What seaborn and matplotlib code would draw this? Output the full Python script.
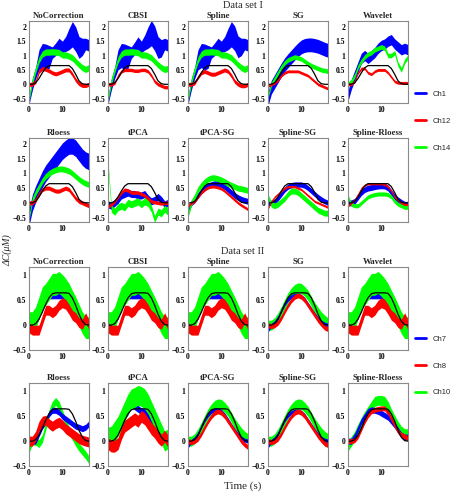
import numpy as np
import pandas as pd
import matplotlib
matplotlib.use("Agg")
import matplotlib.pyplot as plt
from matplotlib.lines import Line2D
import seaborn as sns

# ---------------- data ----------------
T = [0, 1, 2, 3, 4, 5, 6, 7, 8, 9, 10, 11, 12, 13, 14, 15, 16, 17, 18]

REF_I = [0, 0, 0.05, 0.2, 0.4, 0.57, 0.65, 0.65, 0.65, 0.65, 0.65, 0.65, 0.65, 0.55, 0.35, 0.12, 0.02, 0, 0]
REF_II = [0, 0, 0.03, 0.12, 0.26, 0.42, 0.55, 0.63, 0.65, 0.65, 0.65, 0.65, 0.64, 0.55, 0.4, 0.22, 0.08, 0.01, 0]

# Data set I : Ch1 (blue), Ch12 (red), Ch14 (green); band = centre +/- half width
NOCORR_I_CH1 = [-0.57, 0.0, 0.4, 0.85, 1.0, 0.95, 0.95, 1.1, 1.22, 1.35, 1.3, 1.4, 1.57, 1.74, 1.57, 1.28, 1.3, 1.4, 1.35]
NOCORR_I_CH1_HW = [0.13, 0.2, 0.2, 0.35, 0.42, 0.45, 0.4, 0.2, 0.22, 0.25, 0.2, 0.26, 0.37, 0.44, 0.43, 0.38, 0.3, 0.2, 0.2]
NOCORR_I_CH12 = [0, 0, 0.1, 0.45, 0.55, 0.52, 0.47, 0.4, 0.36, 0.4, 0.45, 0.5, 0.5, 0.35, 0.15, 0.02, -0.04, -0.04, 0.0]
NOCORR_I_CH14 = [-0.5, 0.1, 0.5, 0.85, 1.05, 1.12, 1.12, 1.13, 1.12, 1.1, 1.02, 1.02, 0.98, 0.92, 0.8, 0.68, 0.58, 0.52, 0.58]
HW_NOCORR_I = [NOCORR_I_CH1_HW, 0.07, 0.11]

CBSI_I_CH1 = [-0.57, 0.0, 0.4, 0.85, 1.0, 0.95, 0.95, 1.1, 1.25, 1.4, 1.3, 1.45, 1.62, 1.78, 1.6, 1.28, 1.25, 1.4, 1.35]
CBSI_I_CH1_HW = [0.13, 0.2, 0.2, 0.35, 0.42, 0.45, 0.4, 0.2, 0.22, 0.25, 0.2, 0.26, 0.37, 0.44, 0.43, 0.38, 0.3, 0.2, 0.2]
CBSI_I_CH12 = [0, 0, 0.05, 0.3, 0.45, 0.5, 0.5, 0.5, 0.47, 0.47, 0.5, 0.5, 0.45, 0.3, 0.1, 0.0, -0.05, -0.1, -0.1]
CBSI_I_CH14 = [-0.5, 0.1, 0.5, 0.85, 1.05, 1.12, 1.12, 1.13, 1.12, 1.1, 1.02, 1.02, 0.98, 0.92, 0.8, 0.68, 0.58, 0.52, 0.55]
HW_CBSI_I = [CBSI_I_CH1_HW, 0.06, 0.11]

SPLINE_I_CH1 = [-0.57, 0.0, 0.4, 0.85, 1.0, 0.95, 0.95, 1.1, 1.22, 1.35, 1.3, 1.4, 1.57, 1.74, 1.6, 1.3, 1.3, 1.4, 1.35]
SPLINE_I_CH1_HW = [0.13, 0.2, 0.2, 0.35, 0.42, 0.45, 0.4, 0.2, 0.22, 0.25, 0.2, 0.26, 0.37, 0.44, 0.43, 0.38, 0.3, 0.2, 0.2]
SPLINE_I_CH12 = [0, 0, 0.05, 0.25, 0.4, 0.45, 0.4, 0.35, 0.35, 0.4, 0.45, 0.5, 0.45, 0.3, 0.1, 0.0, -0.05, -0.05, 0.0]
SPLINE_I_CH14 = [-0.5, 0.1, 0.5, 0.85, 1.05, 1.12, 1.12, 1.13, 1.12, 1.1, 1.02, 1.02, 0.98, 0.92, 0.8, 0.68, 0.58, 0.52, 0.58]
HW_SPLINE_I = [SPLINE_I_CH1_HW, 0.07, 0.11]

SG_I_CH1 = [-0.5, -0.1, 0.1, 0.3, 0.5, 0.68, 0.82, 0.95, 1.08, 1.2, 1.3, 1.35, 1.37, 1.37, 1.35, 1.32, 1.27, 1.22, 1.18]
SG_I_CH12 = [-0.05, 0, 0.05, 0.15, 0.3, 0.4, 0.45, 0.45, 0.45, 0.45, 0.4, 0.35, 0.3, 0.2, 0.1, 0.0, -0.05, -0.1, -0.15]
SG_I_CH14 = [-0.4, 0.0, 0.2, 0.4, 0.6, 0.75, 0.85, 0.9, 0.95, 0.92, 0.88, 0.8, 0.72, 0.65, 0.6, 0.55, 0.5, 0.48, 0.45]
HW_SG_I = [0.24, 0.05, 0.08]

WAVELET_I_CH1 = [-0.4, 0.0, 0.3, 0.6, 0.9, 1.0, 0.9, 1.0, 1.1, 1.25, 1.35, 1.4, 1.5, 1.55, 1.4, 1.3, 1.2, 1.25, 1.2]
WAVELET_I_CH12 = [0, 0, 0.1, 0.4, 0.55, 0.55, 0.4, 0.35, 0.45, 0.5, 0.5, 0.5, 0.4, 0.25, 0.1, 0.05, 0.05, 0.05, 0.05]
WAVELET_I_CH14 = [0, 0.1, 0.3, 0.6, 0.8, 0.95, 1.05, 1.1, 1.2, 1.25, 1.3, 1.25, 1.0, 1.0, 1.1, 0.7, 0.5, 0.8, 0.95]
HW_WAVELET_I = [0.18, 0.05, 0.08]

RLOESS_I_CH1 = [-0.5, 0.0, 0.3, 0.55, 0.8, 1.0, 1.15, 1.3, 1.45, 1.6, 1.75, 1.85, 1.93, 1.93, 1.85, 1.7, 1.55, 1.45, 1.4]
RLOESS_I_CH12 = [0, 0, 0.1, 0.3, 0.45, 0.5, 0.5, 0.45, 0.4, 0.4, 0.45, 0.5, 0.45, 0.3, 0.15, 0.05, 0.0, -0.05, -0.1]
RLOESS_I_CH14 = [-0.5, 0.1, 0.35, 0.55, 0.75, 0.9, 1.0, 1.07, 1.12, 1.15, 1.15, 1.12, 1.08, 1.0, 0.9, 0.8, 0.72, 0.66, 0.62]
HW_RLOESS_I = [0.28, 0.07, 0.1]

TPCA_I_CH1 = [-0.05, -0.1, 0.0, 0.1, 0.25, 0.3, 0.35, 0.3, 0.3, 0.25, 0.25, 0.3, 0.15, 0.05, 0.1, 0.2, 0.1, -0.05, 0.0]
TPCA_I_CH12 = [-0.15, -0.05, 0.05, 0.2, 0.35, 0.45, 0.42, 0.35, 0.35, 0.35, 0.3, 0.25, 0.15, 0.05, 0.02, 0.0, -0.02, 0.0, 0.0]
TPCA_I_CH14 = [1.3, -0.2, -0.3, -0.15, -0.1, -0.15, 0.0, -0.05, 0.0, 0.05, -0.05, 0.05, 0.0, -0.2, -0.55, -0.3, -0.35, -0.2, -0.3]
HW_TPCA_I = [0.12, 0.06, 0.12]

TPCASG_I_CH1 = [-0.3, 0.0, 0.1, 0.25, 0.4, 0.5, 0.58, 0.62, 0.65, 0.65, 0.62, 0.55, 0.45, 0.35, 0.25, 0.18, 0.12, 0.08, 0.05]
TPCASG_I_CH12 = [-0.1, 0.0, 0.05, 0.2, 0.35, 0.45, 0.52, 0.55, 0.55, 0.52, 0.48, 0.4, 0.3, 0.2, 0.1, 0.0, -0.08, -0.15, -0.22]
TPCASG_I_CH14 = [-0.4, 0.0, 0.2, 0.45, 0.6, 0.72, 0.8, 0.85, 0.85, 0.82, 0.78, 0.72, 0.65, 0.6, 0.55, 0.5, 0.48, 0.45, 0.42]
HW_TPCASG_I = [0.1, 0.05, 0.1]

SPLSG_I_CH1 = [0, 0, 0.05, 0.15, 0.3, 0.45, 0.55, 0.6, 0.62, 0.62, 0.62, 0.58, 0.5, 0.4, 0.3, 0.2, 0.12, 0.05, 0.0]
SPLSG_I_CH12 = [-0.2, 0.05, 0.2, 0.3, 0.4, 0.5, 0.55, 0.55, 0.55, 0.5, 0.45, 0.35, 0.25, 0.15, 0.05, 0.0, -0.05, -0.1, -0.15]
SPLSG_I_CH14 = [0.2, -0.05, -0.1, -0.05, 0.05, 0.15, 0.3, 0.4, 0.4, 0.35, 0.25, 0.15, 0.05, -0.05, -0.15, -0.25, -0.3, -0.35, -0.35]
HW_SPLSG_I = [0.09, 0.04, 0.1]

SPLRL_I_CH1 = [0, 0, 0.05, 0.2, 0.35, 0.45, 0.5, 0.52, 0.55, 0.57, 0.58, 0.57, 0.5, 0.35, 0.2, 0.1, 0.02, -0.05, -0.05]
SPLRL_I_CH12 = [-0.1, 0.0, 0.1, 0.3, 0.5, 0.6, 0.65, 0.65, 0.65, 0.65, 0.65, 0.62, 0.55, 0.4, 0.2, 0.1, 0.0, -0.05, -0.05]
SPLRL_I_CH14 = [0.2, -0.05, -0.1, -0.1, 0.0, 0.1, 0.2, 0.25, 0.28, 0.3, 0.3, 0.3, 0.28, 0.2, 0.05, -0.05, -0.1, -0.15, -0.15]
HW_SPLRL_I = [0.1, 0.04, 0.07]

# Data set II : Ch7 (blue), Ch8 (red), Ch10 (green)
NOCORR_II_CH7 = [0.0, 0.0, 0.05, 0.2, 0.4, 0.68, 0.6, 0.6, 0.6, 0.6, 0.6, 0.55, 0.48, 0.4, 0.25, 0.15, 0.14, 0.08, 0.0]
NOCORR_II_CH8 = [-0.05, -0.1, -0.1, -0.1, 0.1, 0.3, 0.3, 0.25, 0.3, 0.4, 0.45, 0.42, 0.32, 0.2, 0.15, 0.05, 0.02, 0.15, 0.0]
NOCORR_II_CH10 = [0.05, 0.05, 0.15, 0.35, 0.55, 0.62, 0.72, 0.82, 0.82, 0.86, 0.8, 0.72, 0.62, 0.48, 0.35, 0.2, 0.05, -0.05, -0.05]
HW_NOCORR_II = [0.07, 0.1, 0.22]

SG_II_CH7 = [-0.1, 0.0, 0.05, 0.15, 0.3, 0.43, 0.52, 0.58, 0.6, 0.6, 0.58, 0.52, 0.42, 0.32, 0.22, 0.13, 0.06, 0.02, 0.0]
SG_II_CH8 = [0.0, -0.02, 0.0, 0.05, 0.15, 0.28, 0.4, 0.5, 0.57, 0.6, 0.57, 0.5, 0.4, 0.3, 0.2, 0.1, 0.02, -0.05, -0.08]
SG_II_CH10 = [0.0, 0.0, 0.05, 0.15, 0.28, 0.42, 0.55, 0.65, 0.72, 0.75, 0.74, 0.68, 0.6, 0.48, 0.36, 0.26, 0.17, 0.1, 0.05]
HW_SG_II = [0.04, 0.05, 0.1]

RLOESS_II_CH7 = [0.05, 0.0, 0.0, 0.15, 0.3, 0.4, 0.55, 0.62, 0.62, 0.58, 0.5, 0.45, 0.4, 0.35, 0.3, 0.28, 0.25, 0.28, 0.35]
RLOESS_II_CH8 = [0.0, 0.0, 0.1, 0.3, 0.4, 0.42, 0.35, 0.3, 0.35, 0.38, 0.33, 0.25, 0.2, 0.15, 0.1, 0.05, 0.02, 0.0, -0.02]
RLOESS_II_CH10 = [-0.15, 0.0, 0.0, -0.05, 0.05, 0.3, 0.55, 0.72, 0.8, 0.72, 0.55, 0.38, 0.22, 0.1, -0.02, -0.12, -0.2, -0.28, -0.38]
HW_RLOESS_II = [0.06, 0.1, 0.08]

TPCA_II_CH7 = [0, 0, 0.05, 0.2, 0.35, 0.5, 0.6, 0.75, 0.7, 0.65, 0.6, 0.58, 0.5, 0.42, 0.3, 0.2, 0.12, 0.05, 0.0]
TPCA_II_CH8 = [-0.05, -0.1, -0.1, -0.05, 0.15, 0.3, 0.35, 0.4, 0.45, 0.4, 0.5, 0.45, 0.35, 0.25, 0.18, 0.08, 0.02, 0.1, 0.0]
TPCA_II_CH10 = [0.08, 0.1, 0.2, 0.3, 0.45, 0.6, 0.75, 0.85, 0.88, 0.92, 0.9, 0.85, 0.75, 0.6, 0.45, 0.3, 0.15, 0.0, 0.05]
HW_TPCA_II = [0.07, 0.12, 0.2]

TPCASG_II_CH7 = [-0.1, 0.0, 0.05, 0.15, 0.3, 0.43, 0.53, 0.6, 0.63, 0.63, 0.6, 0.53, 0.43, 0.32, 0.22, 0.13, 0.06, 0.02, 0.0]
TPCASG_II_CH8 = [0.0, -0.02, 0.0, 0.05, 0.15, 0.28, 0.4, 0.5, 0.57, 0.6, 0.57, 0.5, 0.4, 0.3, 0.2, 0.1, 0.0, -0.07, -0.12]
TPCASG_II_CH10 = [0.0, 0.0, 0.05, 0.15, 0.28, 0.42, 0.55, 0.65, 0.72, 0.75, 0.74, 0.68, 0.6, 0.48, 0.36, 0.26, 0.17, 0.1, 0.05]
HW_TPCASG_II = [0.04, 0.05, 0.1]

SPLRL_II_CH7 = [0.0, 0.0, 0.1, 0.25, 0.4, 0.5, 0.6, 0.63, 0.62, 0.6, 0.56, 0.52, 0.48, 0.4, 0.32, 0.22, 0.12, 0.08, 0.08]
SPLRL_II_CH8 = [0, 0, 0.02, 0.1, 0.25, 0.4, 0.52, 0.6, 0.63, 0.65, 0.66, 0.66, 0.58, 0.45, 0.32, 0.2, 0.12, 0.1, 0.05]
SPLRL_II_CH10 = [-0.1, 0.0, 0.1, 0.25, 0.38, 0.5, 0.6, 0.7, 0.8, 0.82, 0.82, 0.8, 0.7, 0.55, 0.42, 0.3, 0.2, 0.15, 0.15]
HW_SPLRL_II = [0.06, 0.05, 0.1]

TITLES = ["NoCorrection", "CBSI", "Spline", "SG", "Wavelet",
          "Rloess", "tPCA", "tPCA-SG", "Spline-SG", "Spline-Rloess"]

PANELS_I = [
    (NOCORR_I_CH1, NOCORR_I_CH12, NOCORR_I_CH14, HW_NOCORR_I),
    (CBSI_I_CH1, CBSI_I_CH12, CBSI_I_CH14, HW_CBSI_I),
    (SPLINE_I_CH1, SPLINE_I_CH12, SPLINE_I_CH14, HW_SPLINE_I),
    (SG_I_CH1, SG_I_CH12, SG_I_CH14, HW_SG_I),
    (WAVELET_I_CH1, WAVELET_I_CH12, WAVELET_I_CH14, HW_WAVELET_I),
    (RLOESS_I_CH1, RLOESS_I_CH12, RLOESS_I_CH14, HW_RLOESS_I),
    (TPCA_I_CH1, TPCA_I_CH12, TPCA_I_CH14, HW_TPCA_I),
    (TPCASG_I_CH1, TPCASG_I_CH12, TPCASG_I_CH14, HW_TPCASG_I),
    (SPLSG_I_CH1, SPLSG_I_CH12, SPLSG_I_CH14, HW_SPLSG_I),
    (SPLRL_I_CH1, SPLRL_I_CH12, SPLRL_I_CH14, HW_SPLRL_I),
]
PANELS_II = [
    (NOCORR_II_CH7, NOCORR_II_CH8, NOCORR_II_CH10, HW_NOCORR_II),
    (NOCORR_II_CH7, NOCORR_II_CH8, NOCORR_II_CH10, HW_NOCORR_II),
    (NOCORR_II_CH7, NOCORR_II_CH8, NOCORR_II_CH10, HW_NOCORR_II),
    (SG_II_CH7, SG_II_CH8, SG_II_CH10, HW_SG_II),
    (NOCORR_II_CH7, NOCORR_II_CH8, NOCORR_II_CH10, HW_NOCORR_II),
    (RLOESS_II_CH7, RLOESS_II_CH8, RLOESS_II_CH10, HW_RLOESS_II),
    (TPCA_II_CH7, TPCA_II_CH8, TPCA_II_CH10, HW_TPCA_II),
    (TPCASG_II_CH7, TPCASG_II_CH8, TPCASG_II_CH10, HW_TPCASG_II),
    (SG_II_CH7, SG_II_CH8, SG_II_CH10, HW_SG_II),
    (SPLRL_II_CH7, SPLRL_II_CH8, SPLRL_II_CH10, HW_SPLRL_II),
]
# drawing order of bands (0 blue, 1 red, 2 green) for data set II panels
ORDER_NOISY = [0, 2, 1]
ORDER_SMOOTH = [2, 0, 1]
ORDERS_II = [ORDER_NOISY, ORDER_NOISY, ORDER_NOISY, ORDER_SMOOTH, ORDER_NOISY,
             ORDER_SMOOTH, ORDER_NOISY, ORDER_SMOOTH, ORDER_SMOOTH, ORDER_SMOOTH]

LEGEND_I = ["Ch1", "Ch12", "Ch14"]
LEGEND_II = ["Ch7", "Ch8", "Ch10"]
YTICKS_I = [-0.5, 0, 0.5, 1, 1.5, 2]
YTICKLABELS_I = ["\u22120.5", "0", "0.5", "1", "1.5", "2"]
YTICKS_II = [-0.5, 0, 0.5, 1]
YTICKLABELS_II = ["\u22120.5", "0", "0.5", "1"]
XTICKS = [0, 10]

# ---------------- style ----------------
sns.set_theme(style="white")
plt.rcParams["font.family"] = ["Liberation Serif", "DejaVu Serif"]

BLUE, RED, GREEN = "#0000ff", "#ff0000", "#00ff00"
COLORS = [BLUE, RED, GREEN]

W, H = 450, 493
fig = plt.figure(figsize=(4.5, 4.93), dpi=100)

COL_LEFT = [29, 108, 188, 268, 348]
AX_W = 60
ROWS = [(21, 103), (138, 222), (267, 350), (383, 466)]


def make_ax(left, top, bottom):
    return fig.add_axes([left / W, 1 - bottom / H, AX_W / W, (bottom - top) / H])


def draw_panel(ax, panel, ref, order, ylim, yticks, yticklabels, title):
    chans = panel[:3]
    hw = panel[3]
    for i in order:
        m = np.asarray(chans[i], dtype=float)
        h = np.asarray(hw[i], dtype=float)
        ax.fill_between(T, m - h, m + h, color=COLORS[i], lw=0)
    sns.lineplot(x=T, y=ref, color="black", lw=0.9, ax=ax)
    ax.set_xlim(0, 18)
    ax.set_ylim(*ylim)
    ax.set_xticks(XTICKS)
    ax.set_xticklabels([str(v) for v in XTICKS])
    ax.set_yticks(yticks)
    ax.set_yticklabels(yticklabels)
    ax.set_xlabel("")
    ax.set_ylabel("")
    ax.tick_params(direction="in", length=2, width=0.5, pad=2, labelsize=5.5,
                   colors="#707070", labelcolor="black")
    for lab in ax.get_xticklabels() + ax.get_yticklabels():
        lab.set_fontweight("bold")
    for s in ax.spines.values():
        s.set_color("#8a8a8a")
        s.set_linewidth(0.8)
    ax.set_title(title, fontsize=6.3, fontweight="bold", pad=2.5)


for k in range(10):
    r, c = divmod(k, 5)
    top, bot = ROWS[r]
    ax = make_ax(COL_LEFT[c], top, bot)
    draw_panel(ax, PANELS_I[k], REF_I, [0, 2, 1], (-0.65, 2.2),
               YTICKS_I, YTICKLABELS_I, TITLES[k])

for k in range(10):
    r, c = divmod(k, 5)
    top, bot = ROWS[r + 2]
    ax = make_ax(COL_LEFT[c], top, bot)
    draw_panel(ax, PANELS_II[k], REF_II, ORDERS_II[k], (-0.5, 1.17),
               YTICKS_II, YTICKLABELS_II, TITLES[k])

# section titles and axis labels
fig.text(243 / W, 1 - 6 / H, "Data set I", ha="center", va="center", fontsize=7.5)
fig.text(243 / W, 1 - 251 / H, "Data set II", ha="center", va="center", fontsize=7.5)
fig.text(243 / W, 1 - 486 / H, "Time (s)", ha="center", va="center", fontsize=8)
fig.text(8 / W, 1 - 250 / H, "\u0394C(\u03bcM)", ha="center", va="center",
         rotation=90, fontsize=7, style="italic")

# legends
for labels, ycen in [(LEGEND_I, 121), (LEGEND_II, 366)]:
    handles = [Line2D([0], [0], color=col, lw=2) for col in [BLUE, RED, GREEN]]
    fig.legend(handles, labels, loc="center left",
               bbox_to_anchor=(415 / W, 1 - ycen / H), frameon=False,
               borderaxespad=0, borderpad=0, handlelength=1.4, handletextpad=0.9,
               labelspacing=2.55, prop={"family": "Liberation Sans", "size": 5.5})

fig.savefig("out.png", dpi=100)
